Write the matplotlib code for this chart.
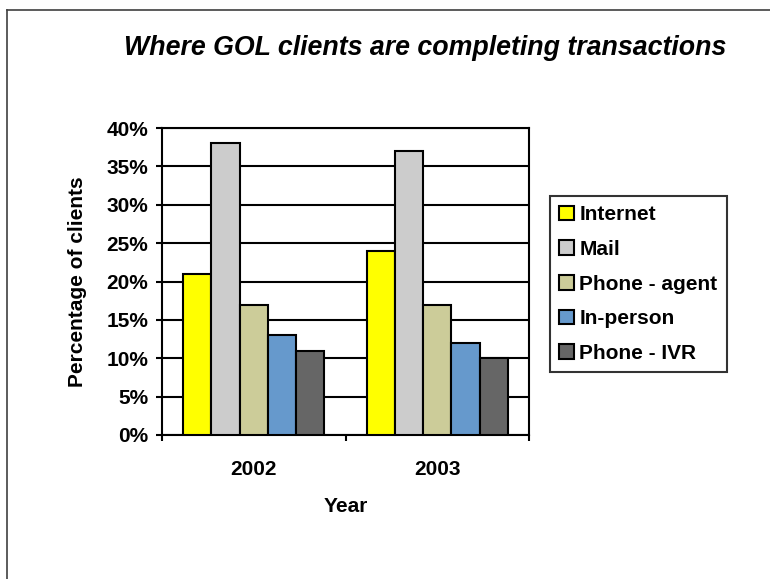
import matplotlib
matplotlib.use("Agg")
import matplotlib.pyplot as plt
from matplotlib.lines import Line2D
import numpy as np

plt.rcParams['font.family'] = ['Liberation Sans', 'DejaVu Sans']

years = ["2002", "2003"]
channels = ["Internet", "Mail", "Phone - agent", "In-person", "Phone - IVR"]
internet = [21, 24]
mail = [38, 37]
phone_agent = [17, 17]
in_person = [13, 12]
phone_ivr = [11, 10]
colors = ["#FFFF00", "#CCCCCC", "#CCCC99", "#6699CC", "#666666"]

series = [internet, mail, phone_agent, in_person, phone_ivr]
fs = 15

fig = plt.figure(figsize=(7.7, 5.79), dpi=100)
ax = fig.add_axes([162/770, 1 - 435/579, (529 - 162)/770, (435 - 128)/579])

# excel style: gap width 150% -> 5 bars + 1.5 bar gap per category
bw = 1.0 / 6.5
x = np.arange(len(years))
for i, vals in enumerate(series):
    ax.bar(x + (i - 2) * bw, vals, width=bw, color=colors[i],
           edgecolor="black", linewidth=1.5, label=channels[i], zorder=3)

ax.set_xlim(-0.5, 1.5)
ax.set_ylim(0, 40)
ax.set_yticks(range(0, 41, 5))
ax.set_yticklabels([f"{v}%" for v in range(0, 41, 5)], fontsize=fs, fontweight="bold")
ax.set_xticks([-0.5, 0.5, 1.5], minor=False)
ax.set_xticklabels(["", "", ""])
ax.set_xticks(x, minor=True)
ax.set_xticklabels(years, minor=True, fontsize=fs, fontweight="bold")
ax.tick_params(axis="x", which="major", direction="out", length=4, width=1.5)
ax.tick_params(axis="x", which="minor", length=0, pad=18)
ax.tick_params(axis="y", direction="out", length=4, width=1.5, pad=6)
ax.yaxis.grid(True, color="black", linewidth=1.5, zorder=0)
ax.set_axisbelow(True)
for s in ax.spines.values():
    s.set_linewidth(1.5)

ax.set_xlabel("Year", fontsize=fs, fontweight="bold", labelpad=13)
ax.set_ylabel("Percentage of clients", fontsize=fs, fontweight="bold", labelpad=14)

leg = fig.legend(loc="upper left", bbox_to_anchor=(550/770, 1 - 196/579),
                 frameon=True, fancybox=False, edgecolor="black",
                 prop={"size": fs, "weight": "bold"}, handlelength=0.7,
                 handleheight=0.7, handletextpad=0.25, labelspacing=0.75,
                 borderpad=0.45, borderaxespad=0)
leg.get_frame().set_linewidth(1.5)

fig.text(425/770, 1 - 48/579, "Where GOL clients are completing transactions",
         ha="center", va="center", fontsize=19.3, fontweight="bold", style="italic")

# outer chart border
fig.add_artist(Line2D([7/770, 7/770], [0, 1 - 10/579], color="#404040", linewidth=1.2))
fig.add_artist(Line2D([7/770, 1], [1 - 10/579, 1 - 10/579], color="#404040", linewidth=1.2))

fig.savefig("out.png", dpi=100)
